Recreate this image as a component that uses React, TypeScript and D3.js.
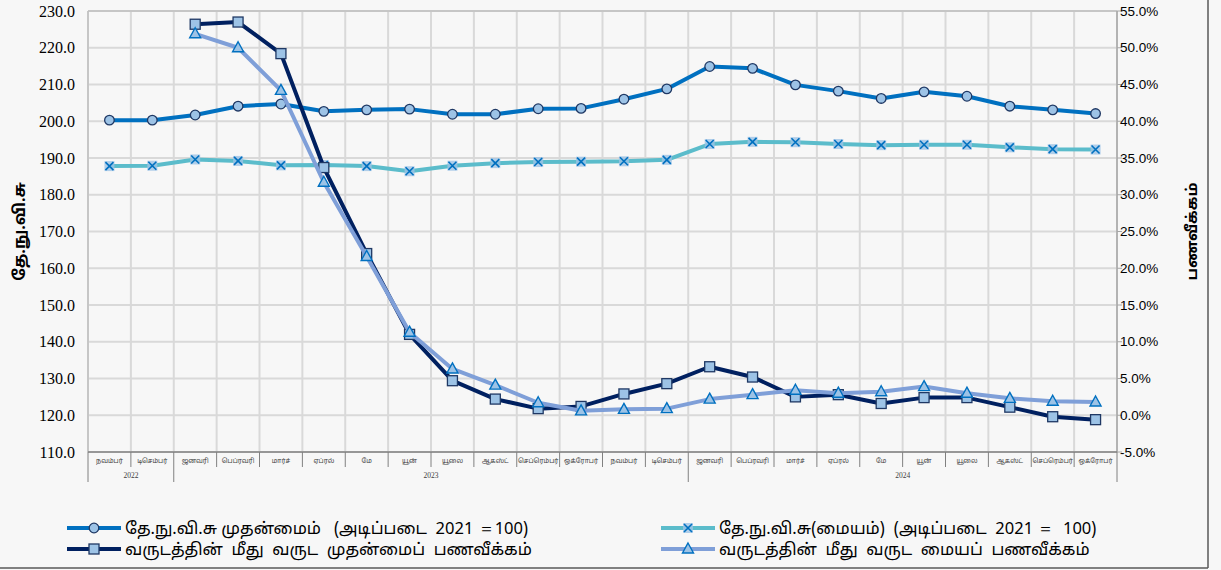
import * as d3 from 'd3';
import React from 'react';

// months Nov 2022 .. Oct 2024
const months = ['நவம்பர்', 'டிசெம்பர்', 'ஜனவரி', 'பெப்ரவரி', 'மார்ச்', 'ஏப்ரல்', 'மே', 'யூன்', 'யூலை', 'ஆகஸ்ட்', 'செப்ரெம்பர்', 'ஒக்ரோபர்',
  'நவம்பர்', 'டிசெம்பர்', 'ஜனவரி', 'பெப்ரவரி', 'மார்ச்', 'ஏப்ரல்', 'மே', 'யூன்', 'யூலை', 'ஆகஸ்ட்', 'செப்ரெம்பர்', 'ஒக்ரோபர்'];
const years = [{ label: '2022', from: 0, to: 2 }, { label: '2023', from: 2, to: 14 }, { label: '2024', from: 14, to: 24 }];

const ccpi = [200.3, 200.3, 201.7, 204.1, 204.7, 202.7, 203.1, 203.3, 201.9, 201.9, 203.4, 203.5, 206.0, 208.8, 214.9, 214.4, 209.9, 208.2, 206.2, 208.0, 206.8, 204.1, 203.1, 202.1];
const ccpiCore = [187.8, 187.9, 189.6, 189.2, 188.0, 188.1, 187.8, 186.4, 187.9, 188.6, 188.9, 189.0, 189.1, 189.5, 193.8, 194.4, 194.3, 193.8, 193.5, 193.6, 193.6, 192.9, 192.4, 192.3];
const headlineYoY = [null, null, 53.2, 53.5, 49.2, 33.7, 22.0, 11.0, 4.7, 2.2, 0.9, 1.2, 2.9, 4.3, 6.6, 5.2, 2.5, 2.8, 1.6, 2.4, 2.4, 1.1, -0.2, -0.6];
const coreYoY = [null, null, 51.9, 50.0, 44.2, 31.7, 21.6, 11.3, 6.3, 4.1, 1.7, 0.6, 0.8, 0.9, 2.2, 2.8, 3.4, 3.0, 3.2, 3.9, 3.0, 2.3, 1.9, 1.8];

const leftTicks = d3.range(110, 231, 10);
const rightTicks = d3.range(-5, 56, 5);

const W = 1221, H = 570;
const L = 88, R = 1117, T = 11, B = 452;
const tamil = '"Noto Sans Tamil", "Latha", "Noto Sans", sans-serif';
const serif = '"Liberation Serif", "Times New Roman", serif';

const x = d3.scaleBand<number>().domain(d3.range(24)).range([L, R]);
const cx = (i: number) => x(i)! + x.bandwidth() / 2;
const y = d3.scaleLinear().domain([110, 230]).range([B, T]);
const yR = d3.scaleLinear().domain([-5, 55]).range([B, T]);

const mkLine = (sc: d3.ScaleLinear<number, number>) =>
  d3.line<number | null>().defined(d => d != null).x((_, i) => cx(i)).y(d => sc(d as number));

const Marker = ({ kind, px, py }: { kind: string; px: number; py: number }) => {
  if (kind === 'circle') return <circle cx={px} cy={py} r={4.8} fill="#9DC3E6" stroke="#1F3864" strokeWidth={1.3} />;
  if (kind === 'square') return <rect x={px - 5} y={py - 5} width={10} height={10} fill="#9DC3E6" stroke="#1F3864" strokeWidth={1.3} />;
  if (kind === 'cross') return (
    <g>
      <rect x={px - 5} y={py - 5} width={10} height={10} fill="#9DC3E6" opacity={0.8} />
      <path d={`M${px - 4},${py - 4}L${px + 4},${py + 4}M${px - 4},${py + 4}L${px + 4},${py - 4}`} stroke="#0070C0" strokeWidth={1.6} />
    </g>
  );
  return <path d={`M${px},${py - 6}L${px + 5.5},${py + 4}L${px - 5.5},${py + 4}Z`} fill="#9DC3E6" stroke="#0070C0" strokeWidth={1.4} />;
};

const series = [
  { data: ccpi, sc: y, color: '#0070C0', marker: 'circle' },
  { data: ccpiCore, sc: y, color: '#5BBCCB', marker: 'cross' },
  { data: headlineYoY, sc: yR, color: '#002060', marker: 'square' },
  { data: coreYoY, sc: yR, color: '#7F9FD8', marker: 'triangle' },
];

const legend = [
  { text: 'தே.நு.வி.சு முதன்மைம்   (அடிப்படை  2021 ＝100)', s: 0, lx: 67, ly: 534 },
  { text: 'வருடத்தின்  மீது  வருட  முதன்மைப்  பணவீக்கம்', s: 2, lx: 67, ly: 555 },
  { text: 'தே.நு.வி.சு(மையம்)  (அடிப்படை  2021 ＝  100)', s: 1, lx: 661, ly: 534 },
  { text: 'வருடத்தின்  மீது  வருட  மையப்  பணவீக்கம்', s: 3, lx: 661, ly: 555 },
];

export default function App() {
  return (
    <div style={{ position: 'fixed', left: 0, top: 0 }}>
      <svg width={W} height={H} style={{ display: 'block', background: '#f7f7f7' }}>
        {/* outer frame */}
        <line x1={0} x2={1208} y1={568} y2={568} stroke="#595959" strokeWidth={1.5} />
        <line x1={1208} x2={1208} y1={0} y2={568} stroke="#595959" strokeWidth={1.5} />

        {/* grid */}
        {leftTicks.map(t => (
          <line key={'h' + t} x1={L} x2={R} y1={y(t)} y2={y(t)} stroke="#d9d9d9" strokeWidth={2} />
        ))}
        {d3.range(25).map(i => (
          <line key={'v' + i} x1={L + i * x.step()} x2={L + i * x.step()} y1={T} y2={B} stroke="#d9d9d9" strokeWidth={2} />
        ))}
        <line x1={L} x2={R} y1={T} y2={T} stroke="#bfbfbf" strokeWidth={1.5} />
        <line x1={L} x2={L} y1={T} y2={B} stroke="#bfbfbf" strokeWidth={1.5} />
        <line x1={R} x2={R} y1={T} y2={B} stroke="#a6a6a6" strokeWidth={1.5} />
        {rightTicks.map(t => (
          <line key={'rt' + t} x1={R} x2={R + 5} y1={yR(t)} y2={yR(t)} stroke="#a6a6a6" strokeWidth={1} />
        ))}

        {/* left axis */}
        {leftTicks.map(t => (
          <text key={'lt' + t} x={75} y={y(t)} dy="0.35em" textAnchor="end" fontFamily={serif} fontSize={16} fill="#000">
            {t.toFixed(1)}
          </text>
        ))}
        <text transform={`translate(25,${(T + B) / 2}) rotate(-90)`} textAnchor="middle" fontFamily={tamil} fontWeight="bold" fontSize={16} fill="#000">
          தே.நு.வி.சு
        </text>

        {/* right axis */}
        {rightTicks.map(t => (
          <text key={'rl' + t} x={1120} y={yR(t)} dy="0.35em" fontFamily="'Liberation Sans', sans-serif" fontSize={13.5} fill="#000">
            {t.toFixed(1)}%
          </text>
        ))}
        <text transform={`translate(1197,${(T + B) / 2}) rotate(-90)`} textAnchor="middle" fontFamily={tamil} fontWeight="bold" fontSize={15} fill="#000">
          பணவீக்கம்
        </text>

        {/* category axis */}
        <line x1={L} x2={R} y1={B} y2={B} stroke="#808080" strokeWidth={1.5} />
        {d3.range(25).map(i => (
          <line key={'ct' + i} x1={L + i * x.step()} x2={L + i * x.step()} y1={B} y2={467} stroke="#808080" strokeWidth={1} />
        ))}
        {years.map(yr => (
          <g key={yr.label}>
            <line x1={L + yr.from * x.step()} x2={L + yr.from * x.step()} y1={467} y2={482} stroke="#808080" strokeWidth={1} />
            <text x={L + (yr.from + yr.to) / 2 * x.step()} y={478} textAnchor="middle" fontFamily={serif} fontSize={7.5} fill="#404040">
              {yr.label}
            </text>
          </g>
        ))}
        <line x1={R} x2={R} y1={467} y2={482} stroke="#808080" strokeWidth={1} />
        {months.map((m, i) => (
          <text key={'m' + i} x={cx(i)} y={463} textAnchor="middle" fontFamily={tamil} fontSize={6.5} fill="#404040">
            {m}
          </text>
        ))}

        {/* series */}
        {series.map((s, k) => (
          <g key={'s' + k}>
            <path d={mkLine(s.sc)(s.data) || ''} fill="none" stroke={s.color} strokeWidth={4} strokeLinejoin="round" />
            {s.data.map((v, i) => v == null ? null : <Marker key={i} kind={s.marker} px={cx(i)} py={s.sc(v)} />)}
          </g>
        ))}

        {/* legend */}
        {legend.map((l, k) => {
          const s = series[l.s];
          return (
            <g key={'lg' + k}>
              <line x1={l.lx} x2={l.lx + 54} y1={l.ly - 6} y2={l.ly - 6} stroke={s.color} strokeWidth={4} />
              <Marker kind={s.marker} px={l.lx + 27} py={l.ly - 6} />
              <text x={l.lx + 58} y={l.ly} fontFamily={tamil} fontSize={16.5} fill="#000" style={{ whiteSpace: 'pre' }}>
                {l.text}
              </text>
            </g>
          );
        })}
      </svg>
    </div>
  );
}
